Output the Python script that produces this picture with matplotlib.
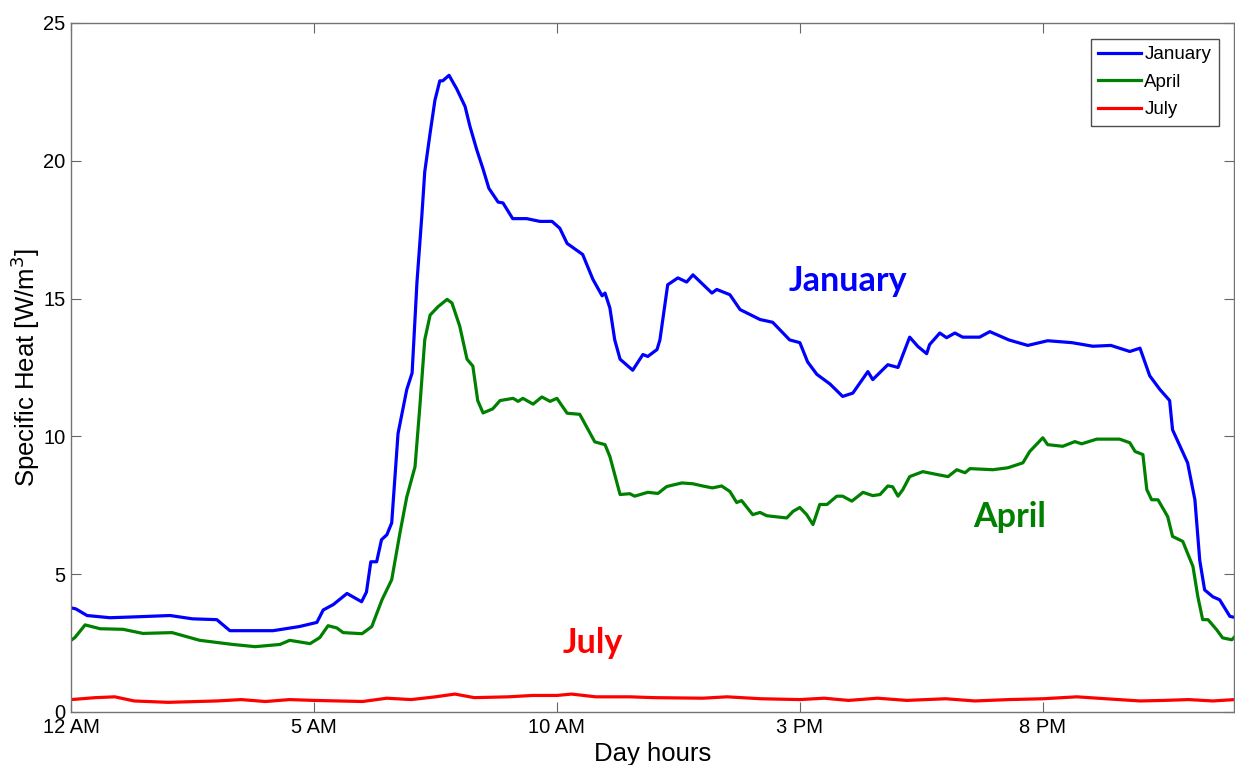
import numpy as np
import matplotlib
matplotlib.use("Agg")
import matplotlib.pyplot as plt

plt.rcParams['font.family'] = ['Liberation Sans', 'DejaVu Sans']

# hours of the day and specific heat values
jan_hours = [0.0, 0.10, 0.33, 0.8, 1.3, 2.04, 2.5, 3.0, 3.27, 4.16, 4.7, 5.06, 5.19, 5.4, 5.68,
             5.98, 6.08, 6.17, 6.29, 6.39, 6.5, 6.6, 6.73, 6.91, 7.02, 7.12, 7.22, 7.28, 7.39,
             7.49, 7.59, 7.65, 7.78, 7.94, 8.11, 8.21, 8.35, 8.48, 8.6, 8.79, 8.89, 9.09, 9.38,
             9.65, 9.9, 10.06, 10.21, 10.53, 10.74, 10.93, 10.99, 11.09, 11.19, 11.3, 11.56,
             11.77, 11.87, 12.06, 12.12, 12.28, 12.49, 12.67, 12.8, 13.19, 13.29, 13.56, 13.77,
             14.18, 14.44, 14.79, 15.0, 15.16, 15.35, 15.62, 15.88, 16.09, 16.4, 16.5, 16.81,
             17.02, 17.26, 17.43, 17.61, 17.67, 17.88, 18.02, 18.19, 18.35, 18.7, 18.91, 19.3,
             19.69, 20.1, 20.6, 21.03, 21.4, 21.79, 22.0, 22.2, 22.41, 22.61, 22.67, 22.98,
             23.13, 23.23, 23.33, 23.5, 23.64, 23.85, 23.95]
jan_values = [3.78, 3.74, 3.5, 3.42, 3.45, 3.5, 3.38, 3.35, 2.95, 2.95, 3.1, 3.25, 3.7, 3.9, 4.3,
              4.0, 4.35, 5.45, 5.45, 6.25, 6.43, 6.86, 10.1, 11.7, 12.3, 15.6, 18.0, 19.6, 21.0,
              22.2, 22.9, 22.9, 23.1, 22.6, 21.97, 21.25, 20.4, 19.7, 19.0, 18.5, 18.47, 17.9, 17.9,
              17.8, 17.8, 17.55, 17.0, 16.6, 15.7, 15.1, 15.2, 14.66, 13.5, 12.8, 12.4,
              12.97, 12.9, 13.15, 13.5, 15.5, 15.75, 15.6, 15.86, 15.2, 15.33, 15.14, 14.6,
              14.24, 14.14, 13.5, 13.4, 12.7, 12.25, 11.9, 11.45, 11.57, 12.35, 12.06, 12.6,
              12.5, 13.6, 13.26, 13.0, 13.33, 13.75, 13.58, 13.75, 13.6, 13.6, 13.8, 13.5,
              13.3, 13.47, 13.4, 13.27, 13.3, 13.08, 13.2, 12.2, 11.7, 11.3, 10.24, 9.04,
              7.7, 5.5, 4.43, 4.18, 4.07, 3.47, 3.43]

apr_hours = [0.0, 0.08, 0.29, 0.6, 1.07, 1.48, 2.08, 2.65, 3.33, 3.79, 4.3, 4.5, 4.92, 5.12, 5.29,
             5.47, 5.6, 5.99, 6.19, 6.4, 6.6, 6.77, 6.91, 7.08, 7.18, 7.28, 7.39, 7.55, 7.74,
             7.84, 8.0, 8.15, 8.27, 8.37, 8.48, 8.68, 8.83, 9.1, 9.2, 9.3, 9.51, 9.69, 9.86,
             10.0, 10.21, 10.47, 10.78, 10.99, 11.09, 11.3, 11.5, 11.6, 11.87, 12.08, 12.26,
             12.57, 12.8, 13.0, 13.2, 13.39, 13.56, 13.7, 13.8, 14.03, 14.18, 14.32, 14.73,
             14.86, 15.0, 15.14, 15.27, 15.41, 15.56, 15.76, 15.88, 16.07, 16.3, 16.5, 16.65,
             16.81, 16.91, 17.02, 17.12, 17.26, 17.53, 17.84, 18.05, 18.23, 18.4, 18.5, 18.97,
             19.28, 19.59, 19.73, 20.0, 20.1, 20.41, 20.66, 20.8, 21.11, 21.58, 21.79, 21.9,
             22.06, 22.14, 22.24, 22.37, 22.57, 22.67, 22.88, 23.09, 23.19, 23.29, 23.4, 23.58,
             23.7, 23.89, 23.95]
apr_values = [2.6, 2.7, 3.16, 3.02, 3.0, 2.85, 2.88, 2.6, 2.45, 2.37, 2.45, 2.6, 2.48, 2.7, 3.13,
              3.05, 2.88, 2.84, 3.1, 4.07, 4.8, 6.5, 7.8, 8.9, 11.1, 13.5, 14.4, 14.7, 14.97,
              14.84, 14.0, 12.8, 12.55, 11.3, 10.85, 11.0, 11.3, 11.38, 11.27, 11.38, 11.17, 11.43, 11.27,
              11.38, 10.84, 10.8, 9.8, 9.7, 9.27, 7.89, 7.92, 7.83, 7.97, 7.93, 8.18,
              8.31, 8.28, 8.2, 8.13, 8.2, 8.0, 7.6, 7.67, 7.16, 7.24, 7.12, 7.04,
              7.28, 7.42, 7.16, 6.8, 7.53, 7.53, 7.83, 7.83, 7.65, 7.97, 7.85, 7.89,
              8.2, 8.17, 7.83, 8.07, 8.54, 8.72, 8.61, 8.54, 8.79, 8.68, 8.83, 8.79,
              8.86, 9.04, 9.45, 9.95, 9.7, 9.64, 9.81, 9.73, 9.9, 9.9, 9.77, 9.45,
              9.34, 8.07, 7.7, 7.7, 7.09, 6.37, 6.19, 5.28, 4.19, 3.35, 3.35, 2.98,
              2.69, 2.62, 2.73]

jul_hours = [0.0, 0.5, 0.9, 1.3, 2.0, 3.0, 3.5, 4.0, 4.5, 5.0, 5.5, 6.0, 6.5, 7.0, 7.5, 7.9,
             8.3, 9.0, 9.5, 10.0, 10.3, 10.8, 11.5, 12.0, 13.0, 13.5, 14.2, 15.0, 15.5, 16.0,
             16.6, 17.2, 18.0, 18.6, 19.3, 20.0, 20.7, 21.3, 22.0, 22.5, 23.0, 23.5, 23.95]
jul_values = [0.45, 0.52, 0.55, 0.4, 0.35, 0.4, 0.45, 0.38, 0.45, 0.42, 0.4, 0.38, 0.5, 0.45, 0.55, 0.65,
              0.52, 0.55, 0.6, 0.6, 0.65, 0.55, 0.55, 0.52, 0.5, 0.55, 0.48, 0.45, 0.5, 0.42,
              0.5, 0.42, 0.48, 0.4, 0.45, 0.48, 0.55, 0.48, 0.4, 0.42, 0.45, 0.4, 0.45]

tick_hours = [0, 5, 10, 15, 20]
tick_labels = ['12 AM', '5 AM', '10 AM', '3 PM', '8 PM']

fig = plt.figure(figsize=(12.35, 7.65), dpi=100)
ax = fig.add_axes([0.0575, 0.0693, 0.9415, 0.9007])

ax.plot(jan_hours, jan_values, color=(0, 0, 1), lw=2.3, label='January')
ax.plot(apr_hours, apr_values, color=(0, 0.5, 0), lw=2.3, label='April')
ax.plot(jul_hours, jul_values, color=(1, 0, 0), lw=2.3, label='July')

ax.set_xlim(0, 23.93)
ax.set_ylim(0, 25)
ax.set_xticks(tick_hours)
ax.set_xticklabels(tick_labels)
ax.set_yticks([0, 5, 10, 15, 20, 25])
ax.tick_params(direction='in', length=7, width=0.8, color='0.4', labelsize=14.5,
               top=True, right=True, pad=4)
for s in ax.spines.values():
    s.set_color('0.45')
    s.set_linewidth(1.0)

ax.set_xlabel('Day hours', fontsize=18.5, labelpad=4)
ax.set_ylabel('Specific Heat [W/m$^3$]', fontsize=18.5, labelpad=1)

ann_font = ['Lato', 'DejaVu Sans']
ax.text(15.99, 15.65, 'January', color=(0, 0, 1), fontsize=24.5, fontweight='bold',
        family=ann_font, ha='center', va='center')
ax.text(19.32, 7.08, 'April', color=(0, 0.5, 0), fontsize=24.5, fontweight='bold',
        family=ann_font, ha='center', va='center')
ax.text(10.74, 2.5, 'July', color=(1, 0, 0), fontsize=24.5, fontweight='bold',
        family=ann_font, ha='center', va='center')

leg = ax.legend(loc='upper right', bbox_to_anchor=(0.987, 0.977), fontsize=13.5,
                fancybox=False, framealpha=1, edgecolor='0.3', handlelength=2.3,
                handletextpad=0.15, borderpad=0.4, labelspacing=0.55, borderaxespad=0)
leg.get_frame().set_linewidth(1.0)

fig.savefig('out.png', dpi=100)
